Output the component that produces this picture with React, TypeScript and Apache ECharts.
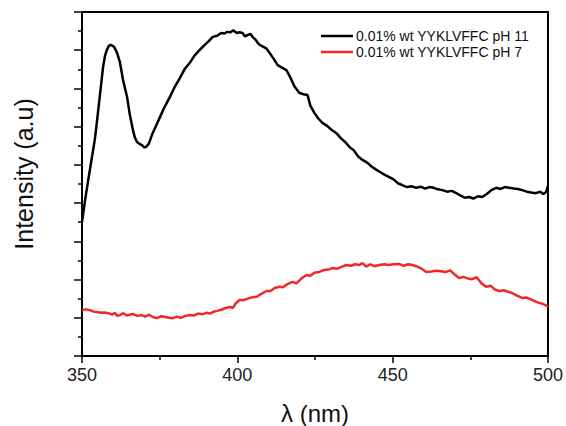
import React, { useEffect, useRef } from "react";
import * as echarts from "echarts";

const ph11Wavelength = [
  350.0, 351.0, 352.0, 353.0, 354.0, 354.4, 355.6, 356.8, 357.4, 358.0, 358.7, 359.3, 360.3, 361.2, 362.2,
  363.2, 364.0, 364.5, 365.4, 366.4, 367.0, 367.7, 368.5, 369.3, 370.0, 370.6, 371.5, 372.5, 373.8, 375.1,
  376.6, 378.3, 379.9, 381.5, 383.0, 384.7, 386.2, 387.9, 389.5, 390.8, 392.1, 393.5, 394.8, 396.0, 396.6,
  397.8, 398.7, 399.8, 400.7, 401.7, 402.5, 403.4, 404.2, 404.9, 405.8, 406.5, 407.2, 408.4, 409.3, 410.4,
  411.5, 413.0, 414.2, 415.8, 417.0, 418.4, 420.0, 421.3, 422.6, 423.5, 424.8, 426.0, 427.4, 428.9, 430.3,
  431.9, 433.3, 434.7, 436.1, 437.5, 438.9, 440.3, 441.8, 443.3, 444.8, 446.2, 447.5, 448.9, 450.3, 451.7,
  453.1, 454.6, 456.1, 457.6, 459.0, 460.4, 461.8, 463.2, 464.6, 466.0, 467.5, 469.0, 470.5, 471.8, 473.2,
  474.6, 476.0, 477.4, 478.8, 480.3, 481.8, 483.3, 484.7, 486.1, 487.5, 489.0, 490.3, 491.7, 493.2, 494.6,
  496.1, 497.5, 498.5, 499.4, 500.0,
];
const ph11Intensity = [
  3.51, 4.08, 4.6, 5.1, 5.6, 5.84, 6.7, 7.57, 7.85, 8.01, 8.12, 8.14, 8.09, 7.95, 7.69,
  7.22, 6.95, 6.78, 6.31, 5.91, 5.72, 5.6, 5.55, 5.52, 5.46, 5.47, 5.55, 5.78, 6.02, 6.25,
  6.52, 6.78, 7.05, 7.27, 7.5, 7.67, 7.86, 8.01, 8.14, 8.24, 8.35, 8.38, 8.45, 8.44, 8.48,
  8.47, 8.52, 8.45, 8.47, 8.45, 8.36, 8.4, 8.43, 8.35, 8.28, 8.2, 8.14, 8.09, 8.05, 7.93,
  7.8, 7.61, 7.55, 7.48, 7.3, 7.05, 6.88, 6.85, 6.83, 6.55, 6.36, 6.22, 6.1, 6.02, 5.92,
  5.83, 5.7, 5.6, 5.47, 5.38, 5.22, 5.13, 5.06, 4.95, 4.87, 4.8, 4.74, 4.68, 4.62, 4.52,
  4.47, 4.42, 4.44, 4.4, 4.43, 4.38, 4.42, 4.4, 4.36, 4.34, 4.3, 4.32, 4.26, 4.2, 4.14,
  4.16, 4.12, 4.18, 4.16, 4.24, 4.34, 4.4, 4.37, 4.42, 4.4, 4.38, 4.37, 4.34, 4.3, 4.28,
  4.26, 4.3, 4.24, 4.29, 4.45,
];

const ph7Wavelength = [
  350.0, 351.2, 352.5, 353.8, 355.0, 355.8, 357.2, 358.5, 359.6, 360.5, 361.4, 362.2, 363.3, 364.4, 365.3,
  366.4, 367.8, 369.2, 370.4, 371.6, 372.8, 374.1, 375.5, 376.8, 378.0, 379.2, 380.5, 381.8, 383.2, 384.7,
  386.0, 387.4, 388.7, 390.1, 391.2, 392.1, 393.5, 394.8, 396.0, 397.5, 398.6, 399.5, 400.8, 402.0, 403.4,
  404.9, 406.3, 407.6, 409.4, 410.7, 412.0, 413.6, 414.7, 416.1, 417.8, 419.0, 420.5, 422.3, 423.5, 424.8,
  426.4, 427.9, 429.2, 430.6, 432.0, 433.5, 435.1, 436.6, 438.0, 439.3, 440.3, 441.5, 442.8, 444.1, 445.7,
  447.2, 448.7, 450.4, 452.1, 453.5, 455.0, 456.3, 457.6, 459.0, 460.8, 462.5, 464.0, 465.6, 467.2, 468.5,
  469.9, 471.4, 472.8, 474.2, 475.6, 477.0, 478.6, 480.1, 481.5, 482.9, 484.3, 485.8, 487.1, 488.4, 490.0,
  491.7, 493.0, 494.5, 495.9, 497.1, 498.5, 499.7, 500.0,
];
const ph7Intensity = [
  1.2, 1.22, 1.2, 1.16, 1.15, 1.13, 1.14, 1.12, 1.08, 1.13, 1.05, 1.07, 1.12, 1.06, 1.08,
  1.1, 1.05, 1.07, 1.03, 1.08, 1.02, 0.99, 1.04, 1.02, 1.0, 0.99, 1.03, 1.0, 1.05, 1.07,
  1.06, 1.11, 1.09, 1.13, 1.11, 1.15, 1.18, 1.21, 1.25, 1.28, 1.26, 1.38, 1.47, 1.46, 1.5,
  1.54, 1.55, 1.62, 1.7, 1.7, 1.78, 1.81, 1.8, 1.88, 1.94, 1.9, 2.02, 2.12, 2.1, 2.18,
  2.2, 2.25, 2.26, 2.3, 2.28, 2.33, 2.38, 2.36, 2.4, 2.38, 2.43, 2.34, 2.4, 2.35, 2.38,
  2.4, 2.38, 2.4, 2.41, 2.36, 2.4, 2.38, 2.35, 2.3, 2.2, 2.21, 2.23, 2.22, 2.2, 2.24,
  2.14, 2.04, 2.07, 2.03, 2.01, 2.06, 1.9, 1.81, 1.84, 1.74, 1.7, 1.72, 1.68, 1.65, 1.58,
  1.52, 1.53, 1.48, 1.43, 1.39, 1.36, 1.31, 1.3,
];

const seriesNames = ["0.01% wt YYKLVFFC pH 11", "0.01% wt YYKLVFFC pH 7"];
const xTitle = "λ (nm)";
const yTitle = "Intensity (a.u)";

const FONT = '"Liberation Sans", Arial, sans-serif';

export default function App() {
  const ref = useRef<HTMLDivElement>(null);
  useEffect(() => {
    if (!ref.current) return;
    const chart = echarts.init(ref.current, undefined, { renderer: "svg" });
    const zip = (xs: number[], ys: number[]) => xs.map((x, i) => [x, ys[i]]);
    chart.setOption({
      animation: false,
      backgroundColor: "#ffffff",
      grid: {
        left: 82,
        right: 17,
        top: 12,
        bottom: 70,
        containLabel: false,
        show: true,
        borderColor: "#000",
        borderWidth: 2,
      },
      legend: {
        orient: "vertical",
        left: 316,
        top: 24,
        padding: 5,
        icon: "rect",
        itemWidth: 32,
        itemHeight: 2.5,
        itemGap: 2,
        textStyle: { fontFamily: FONT, fontSize: 14, color: "#111", padding: [0, 0, 0, -2] },
        data: seriesNames,
      },
      xAxis: {
        type: "value",
        min: 350,
        max: 500,
        interval: 50,
        axisLine: { show: true, lineStyle: { color: "#000", width: 2 } },
        axisTick: { show: true, inside: false, length: 7, lineStyle: { color: "#000", width: 1.5 } },
        minorTick: { show: true, splitNumber: 2, length: 4, lineStyle: { color: "#000", width: 1.5 } },
        axisLabel: { fontFamily: FONT, fontSize: 18, color: "#222", margin: 10 },
        splitLine: { show: false },
        minorSplitLine: { show: false },
      },
      yAxis: {
        type: "value",
        min: 0,
        max: 9,
        interval: 1,
        axisLine: { show: true, lineStyle: { color: "#000", width: 2 } },
        axisTick: { show: true, inside: false, length: 8, lineStyle: { color: "#000", width: 1.5 } },
        minorTick: { show: true, splitNumber: 2, length: 4, lineStyle: { color: "#000", width: 1.5 } },
        axisLabel: { show: false },
        splitLine: { show: false },
        minorSplitLine: { show: false },
      },
      graphic: [
        {
          type: "text",
          x: 24,
          y: 174,
          rotation: Math.PI / 2,
          style: {
            text: yTitle,
            fontFamily: FONT,
            fontSize: 25,
            fill: "#111",
            align: "center",
            verticalAlign: "middle",
            textAlign: "center",
            textVerticalAlign: "middle",
          },
        },
        {
          type: "text",
          x: 315,
          y: 413,
          style: {
            text: xTitle,
            fontFamily: FONT,
            fontSize: 24,
            fill: "#111",
            align: "center",
            verticalAlign: "middle",
            textAlign: "center",
            textVerticalAlign: "middle",
          },
        },
      ],
      series: [
        {
          name: seriesNames[0],
          type: "line",
          data: zip(ph11Wavelength, ph11Intensity),
          showSymbol: false,
          symbol: "none",
          lineStyle: { color: "#000", width: 2.5 },
          itemStyle: { color: "#000" },
        },
        {
          name: seriesNames[1],
          type: "line",
          data: zip(ph7Wavelength, ph7Intensity),
          showSymbol: false,
          symbol: "none",
          lineStyle: { color: "#f02828", width: 2.5 },
          itemStyle: { color: "#f02828" },
        },
      ],
    });
    return () => chart.dispose();
  }, []);
  return <div ref={ref} style={{ width: 566, height: 426, position: "absolute", left: 0, top: 0 }} />;
}
